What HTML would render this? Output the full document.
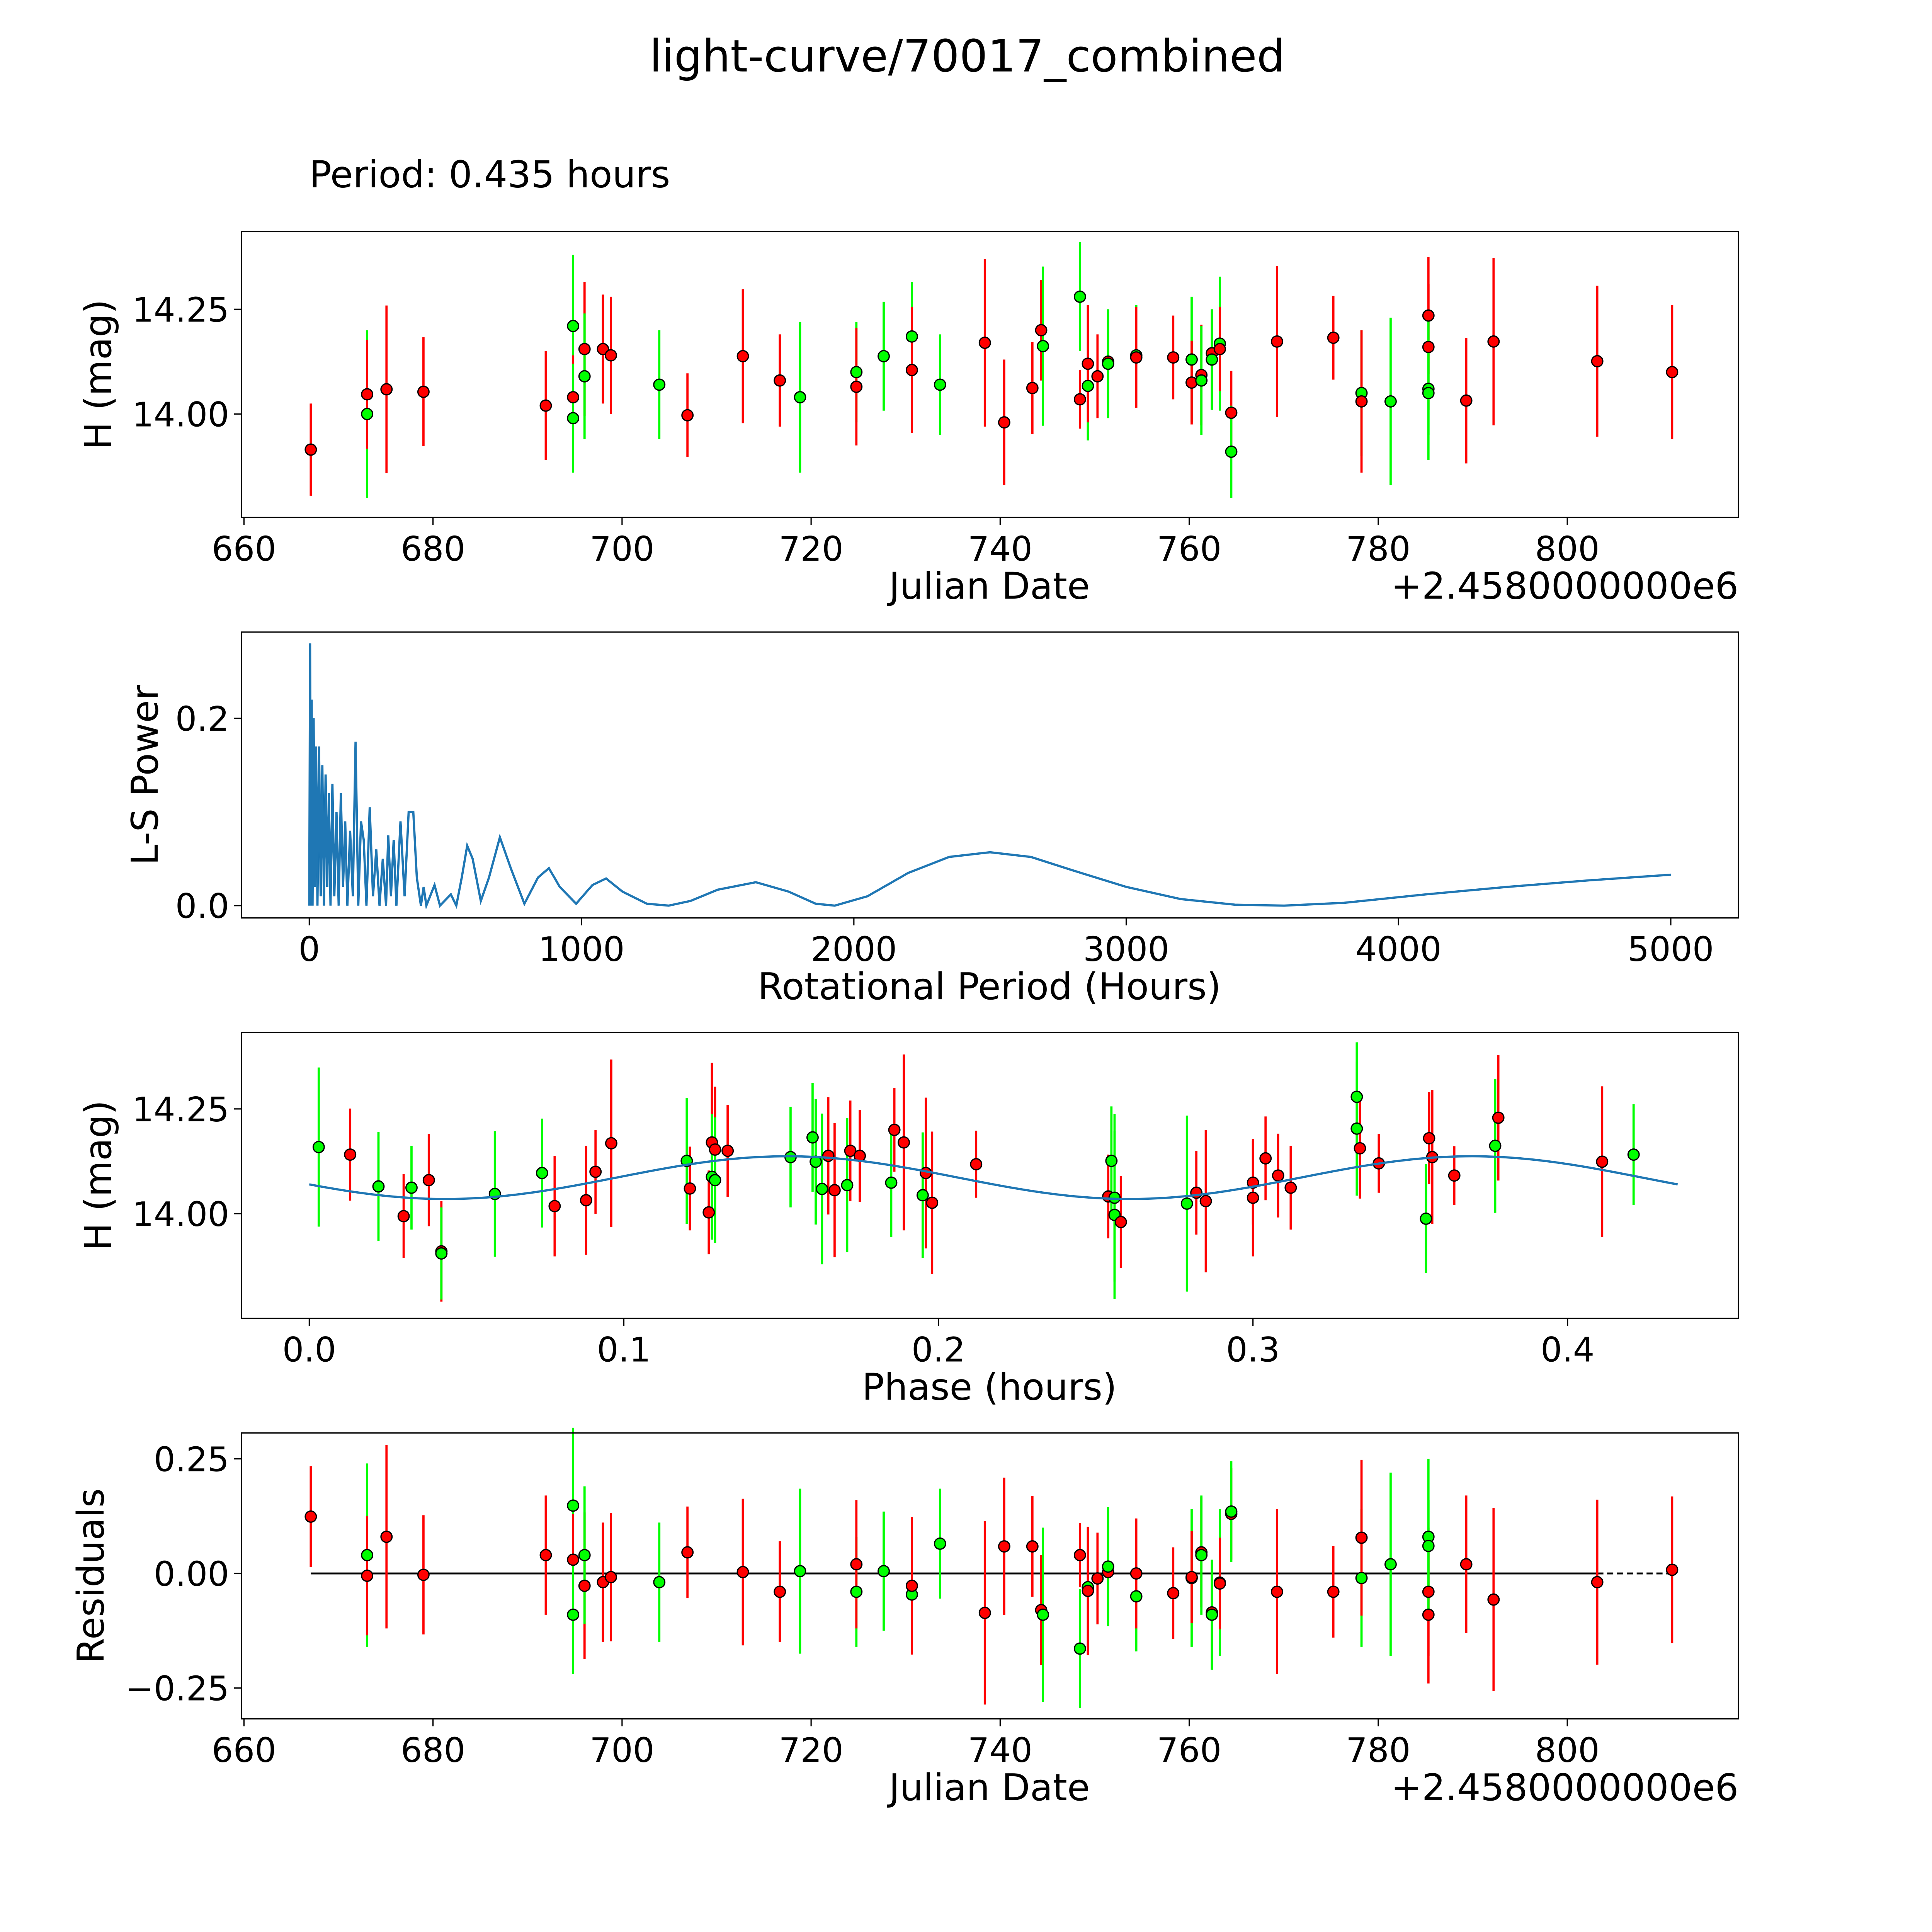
<!DOCTYPE html>
<html><head><meta charset="utf-8"><style>
html,body{margin:0;padding:0;background:#fff;width:100%;height:100%;overflow:hidden}
svg{display:block;width:100vw;height:100vh;font-family:"DejaVu Sans","Liberation Sans",sans-serif}
</style></head><body>
<svg id="fig" xmlns="http://www.w3.org/2000/svg" viewBox="0 0 1568 1568" preserveAspectRatio="none">
<rect x="0" y="0" width="1568" height="1568" fill="#fff"/>
<text x="785" y="58" font-size="36" text-anchor="middle">light-curve/70017_combined</text>
<text x="251" y="152" font-size="30">Period: 0.435 hours</text>
<g id="g1"></g>
<g id="g2"></g>
<g id="g3"></g>
<g id="g4"></g>
</svg>
<script>
const dates=[667.07,673.03,673.03,675.08,678.99,691.93,694.82,694.82,694.82,696.03,696.03,697.98,698.82,703.94,706.92,712.78,716.69,718.83,724.79,724.79,727.68,730.66,730.66,733.64,738.38,740.43,743.41,744.34,744.53,748.44,748.44,749.28,749.28,750.30,751.42,751.42,754.40,754.40,758.31,760.26,760.26,761.29,761.29,762.40,762.40,763.24,763.24,764.45,764.45,769.29,775.25,778.23,778.23,781.31,785.31,785.31,785.31,785.31,789.31,792.20,803.17,811.09];
const mags=[13.915,14.0,14.047,14.059,14.053,14.02,14.21,14.04,13.99,14.155,14.09,14.155,14.14,14.07,13.997,14.138,14.08,14.04,14.10,14.065,14.138,14.185,14.105,14.07,14.17,13.98,14.062,14.2,14.162,14.28,14.035,14.067,14.12,14.09,14.125,14.12,14.14,14.135,14.135,14.13,14.075,14.093,14.08,14.145,14.13,14.168,14.155,14.003,13.91,14.173,14.182,14.05,14.03,14.03,14.235,14.16,14.06,14.05,14.032,14.173,14.126,14.10];
const errs=[0.11,0.2,0.13,0.2,0.13,0.13,0.17,0.1,0.13,0.16,0.15,0.13,0.14,0.13,0.1,0.16,0.11,0.18,0.12,0.14,0.13,0.13,0.15,0.12,0.2,0.15,0.11,0.12,0.19,0.13,0.07,0.13,0.14,0.1,0.1,0.13,0.12,0.12,0.1,0.15,0.1,0.12,0.13,0.1,0.12,0.16,0.1,0.1,0.11,0.18,0.1,0.15,0.17,0.2,0.14,0.15,0.17,0.1,0.15,0.2,0.18,0.16];
const colors=['r','g','r','r','r','r','g','r','g','r','g','r','r','g','r','r','r','g','g','r','g','g','r','g','r','r','r','r','g','g','r','g','r','r','r','g','g','r','r','g','r','r','g','r','g','g','r','r','g','r','r','g','r','g','r','r','g','g','r','r','r','r'];
const residuals=[0.124,0.04,-0.005,0.08,-0.003,0.04,0.148,0.03,-0.09,-0.027,0.04,-0.019,-0.008,-0.019,0.046,0.003,-0.04,0.005,-0.04,0.02,0.005,-0.046,-0.027,0.065,-0.086,0.059,0.059,-0.08,-0.09,-0.164,0.04,-0.03,-0.038,-0.011,0.003,0.015,-0.05,0.0,-0.043,-0.01,-0.008,0.046,0.04,-0.085,-0.09,-0.02,-0.022,0.13,0.135,-0.04,-0.04,-0.01,0.078,0.02,-0.04,-0.09,0.08,0.06,0.02,-0.057,-0.019,0.008];
const periods=[0,3,6,9,12,16,20,25,30,36,42,48,54,60,66,72,78,85,92,100,108,116,124,132,140,150,160,170,180,190,200,210,222,234,246,258,270,282,290,300,310,320,335,350,365,382,395,410,420,430,460,480,520,540,560,580,600,630,660,700,740,790,840,880,920,980,1040,1090,1150,1240,1320,1400,1500,1640,1760,1860,1930,2050,2200,2350,2500,2650,2800,3000,3200,3400,3580,3800,4100,4400,4700,5000];
const powers=[0,0.28,0,0.22,0,0.2,0.02,0.17,0,0.17,0.01,0.15,0,0.14,0.02,0.12,0,0.13,0.01,0.1,0,0.12,0.02,0.09,0,0.08,0.01,0.175,0,0.09,0.07,0,0.105,0.01,0.06,0,0.05,0,0.075,0.01,0.07,0,0.09,0.01,0.1,0.1,0.03,0,0.02,0,0.022,0,0.012,0,0.03,0.064,0.05,0.005,0.03,0.073,0.04,0.002,0.03,0.04,0.02,0.002,0.022,0.029,0.015,0.002,0,0.005,0.017,0.025,0.015,0.002,0,0.01,0.035,0.052,0.057,0.052,0.038,0.02,0.007,0.001,0,0.003,0.012,0.02,0.027,0.033];
const phases=[0.003,0.013,0.022,0.030,0.0325,0.038,0.042,0.042,0.059,0.074,0.078,0.088,0.091,0.096,0.12,0.121,0.127,0.128,0.129,0.128,0.129,0.133,0.153,0.16,0.161,0.163,0.165,0.167,0.171,0.172,0.175,0.185,0.186,0.189,0.195,0.196,0.198,0.212,0.254,0.255,0.256,0.256,0.258,0.279,0.282,0.285,0.3,0.3,0.304,0.308,0.312,0.333,0.333,0.334,0.34,0.355,0.356,0.357,0.364,0.378,0.377,0.411,0.421];
const pmags=[14.159,14.141,14.065,13.994,14.062,14.08,13.91,13.905,14.047,14.097,14.018,14.032,14.1,14.168,14.126,14.06,14.003,14.17,14.153,14.088,14.08,14.15,14.135,14.182,14.124,14.059,14.138,14.056,14.068,14.15,14.138,14.074,14.2,14.17,14.044,14.097,14.026,14.118,14.041,14.126,14.038,13.997,13.98,14.024,14.05,14.03,14.074,14.038,14.132,14.091,14.062,14.279,14.203,14.156,14.12,13.988,14.18,14.135,14.091,14.229,14.162,14.124,14.141];
const perrs=[0.19,0.11,0.13,0.1,0.1,0.11,0.12,0.11,0.15,0.13,0.12,0.13,0.1,0.2,0.15,0.1,0.1,0.19,0.15,0.15,0.15,0.11,0.12,0.13,0.15,0.18,0.14,0.16,0.16,0.12,0.11,0.13,0.1,0.21,0.15,0.18,0.17,0.08,0.1,0.13,0.2,0.2,0.11,0.21,0.1,0.17,0.1,0.14,0.1,0.1,0.1,0.13,0.16,0.12,0.07,0.13,0.11,0.16,0.07,0.15,0.16,0.18,0.12];
const pcolors=['g','r','g','r','g','r','r','g','g','g','r','r','r','r','g','r','r','r','r','g','g','r','g','g','g','g','r','r','g','r','r','g','r','r','g','r','r','r','r','g','g','g','r','g','r','r','r','r','r','r','r','g','g','r','r','g','r','r','r','r','g','r','g'];
const fitMean=14.086, fitAmp=0.051, fitPeriod=0.2175, fitPhase0=0.0976, foldPeriod=0.435;

const NS='http://www.w3.org/2000/svg';
function mk(parent,tag,attrs){const e=document.createElementNS(NS,tag);for(const k in attrs)e.setAttribute(k,attrs[k]);parent.appendChild(e);return e;}
const COL={r:'#ff0000',g:'#00ff00'};
function lin(d0,d1,p0,p1){return v=>p0+(v-d0)*(p1-p0)/(d1-d0);}
function frame(g,x0,y0,x1,y1){const r=mk(g,'rect',{x:x0,y:y0,width:x1-x0,height:y1-y0,fill:'none',stroke:'#000','stroke-width':1});}
function xticks(g,ticks,labels,sx,yb){ticks.forEach((t,i)=>{const x=sx(t);const l=mk(g,'line',{x1:x,x2:x,y1:yb,y2:yb+6,stroke:'#000'});const tx=mk(g,'text',{x:x,y:yb+35,'font-size':27.5,'text-anchor':'middle'});tx.textContent=labels[i];});}
function yticks(g,ticks,labels,sy,xl){ticks.forEach((t,i)=>{const y=sy(t);const l=mk(g,'line',{x1:xl-6,x2:xl,y1:y,y2:y,stroke:'#000'});const tx=mk(g,'text',{x:xl-10,y:y+10,'font-size':27.5,'text-anchor':'end'});tx.textContent=labels[i];});}
function label(g,txt,x,y,rot,name){const t=mk(g,'text',{x:x,y:y,'font-size':30,'text-anchor':'middle'});if(rot)t.setAttribute('transform','rotate(-90 '+x+' '+y+')');t.textContent=txt;}
function errpts(g,xs,ys,es,cs,sx,sy){xs.forEach((xv,i)=>{const x=sx(xv);const b=mk(g,'line',{x1:x,x2:x,y1:sy(ys[i]-es[i]),y2:sy(ys[i]+es[i]),stroke:COL[cs[i]],'stroke-width':1.8});});
 xs.forEach((xv,i)=>{const c=mk(g,'circle',{cx:sx(xv),cy:sy(ys[i]),r:4.5,fill:COL[cs[i]],stroke:'#000','stroke-width':1});});}

const sxJD=lin(660,800,198,1272);
{const g=document.getElementById('g1');const sy=lin(14,14.25,336,251);
 errpts(g,dates,mags,errs,colors,sxJD,sy);frame(g,196,188,1411,420);
 xticks(g,[660,680,700,720,740,760,780,800],['660','680','700','720','740','760','780','800'],sxJD,420);
 yticks(g,[14,14.25],['14.00','14.25'],sy,196);
 label(g,'Julian Date',803,486,false,'x-axis-title');label(g,'H (mag)',90,304,true,'y-axis-title');
 const o=mk(g,'text',{x:1411,y:486,'font-size':30,'text-anchor':'end'});o.textContent='+2.4580000000e6';}
{const g=document.getElementById('g2');const sx=lin(0,5000,251,1356);const sy=lin(0,0.2,735,583);
 const p=mk(g,'polyline',{points:periods.map((v,i)=>sx(v)+','+sy(powers[i])).join(' '),fill:'none',stroke:'#1f77b4','stroke-width':1.8});
 frame(g,196,513,1411,745);
 xticks(g,[0,1000,2000,3000,4000,5000],['0','1000','2000','3000','4000','5000'],sx,745);
 yticks(g,[0,0.2],['0.0','0.2'],sy,196);
 label(g,'Rotational Period (Hours)',803,811,false,'x-axis-title');label(g,'L-S Power',128,629,true,'y-axis-title');}
{const g=document.getElementById('g3');const sx=lin(0,0.1,251,506.3);const sy=lin(14,14.25,985,900);
 errpts(g,phases,pmags,perrs,pcolors,sx,sy);
 const pts=[];for(let i=0;i<=200;i++){const ph=foldPeriod*i/200;pts.push(sx(ph)+','+sy(fitMean+fitAmp*Math.sin(2*Math.PI*(ph-fitPhase0)/fitPeriod)));}
 const c=mk(g,'polyline',{points:pts.join(' '),fill:'none',stroke:'#1f77b4','stroke-width':1.8});
 frame(g,196,838,1411,1070);
 xticks(g,[0,0.1,0.2,0.3,0.4],['0.0','0.1','0.2','0.3','0.4'],sx,1070);
 yticks(g,[14,14.25],['14.00','14.25'],sy,196);
 label(g,'Phase (hours)',803,1136,false,'x-axis-title');label(g,'H (mag)',90,954,true,'y-axis-title');}
{const g=document.getElementById('g4');const sy=lin(0,0.25,1277,1184);
 const l1=mk(g,'line',{x1:sxJD(dates[0]),x2:sxJD(dates[dates.length-2]),y1:sy(0),y2:sy(0),stroke:'#000','stroke-width':1.5});
 const l2=mk(g,'line',{x1:sxJD(dates[dates.length-2]),x2:sxJD(dates[dates.length-1]),y1:sy(0),y2:sy(0),stroke:'#000','stroke-width':1.5,'stroke-dasharray':'5,3'});
 errpts(g,dates,residuals,errs,colors,sxJD,sy);frame(g,196,1163,1411,1395);
 xticks(g,[660,680,700,720,740,760,780,800],['660','680','700','720','740','760','780','800'],sxJD,1395);
 yticks(g,[-0.25,0,0.25],['\u22120.25','0.00','0.25'],sy,196);
 label(g,'Julian Date',803,1461,false,'x-axis-title');label(g,'Residuals',84,1279,true,'y-axis-title');
 const o=mk(g,'text',{x:1411,y:1461,'font-size':30,'text-anchor':'end'});o.textContent='+2.4580000000e6';}
</script>
</body></html>
